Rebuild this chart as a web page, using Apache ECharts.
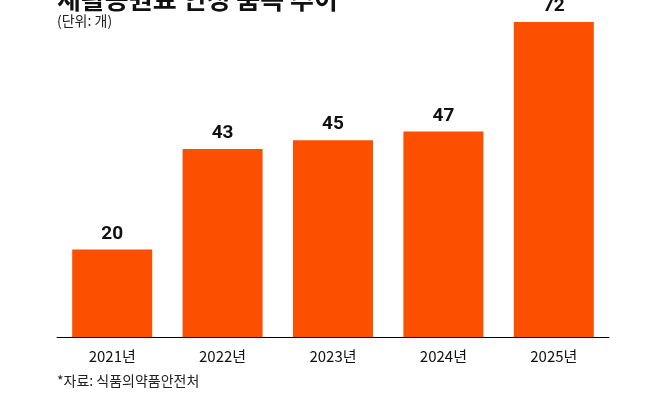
<!DOCTYPE html>
<html><head><meta charset="utf-8">
<script src="https://cdn.jsdelivr.net/npm/echarts@6/dist/echarts.min.js"></script>
<style>html,body{margin:0;padding:0;background:#fff}#c{width:666px;height:402px}</style>
</head><body><div id="c"></div>
<script>
var years = ['2021년', '2022년', '2023년', '2024년', '2025년'];
var counts = [20, 43, 45, 47, 72];
var font = '"Noto Sans CJK KR", sans-serif';
var chart = echarts.init(document.getElementById('c'));
chart.setOption({
    animation: false,
    graphic: [
        {type: 'text', left: 57, top: -14, style: {text: '새활용원료 인정 품목 추이', font: 'bold 26px ' + font, fill: '#111'}},
        {type: 'text', left: 57, top: 14, style: {text: '(단위: 개)', font: '14px ' + font, fill: '#222'}},
        {type: 'text', left: 57, top: 374, style: {text: '*자료: 식품의약품안전처', font: '14px ' + font, fill: '#222'}}
    ],
    grid: {left: 57, right: 57, top: 22, bottom: 65},
    xAxis: {
        type: 'category', data: years,
        axisLine: {lineStyle: {color: '#000', width: 1}},
        axisTick: {show: false},
        axisLabel: {color: '#111', fontSize: 15, fontFamily: font, margin: 12}
    },
    yAxis: {type: 'value', min: 0, max: 72, show: false, splitLine: {show: false}},
    series: [{
        type: 'bar', data: counts, barWidth: 80,
        itemStyle: {color: '#fc5000'},
        label: {show: true, position: 'top', distance: 6, color: '#111', fontSize: 19, fontWeight: 'bold', fontFamily: 'Roboto, sans-serif'}
    }]
});
</script></body></html>
